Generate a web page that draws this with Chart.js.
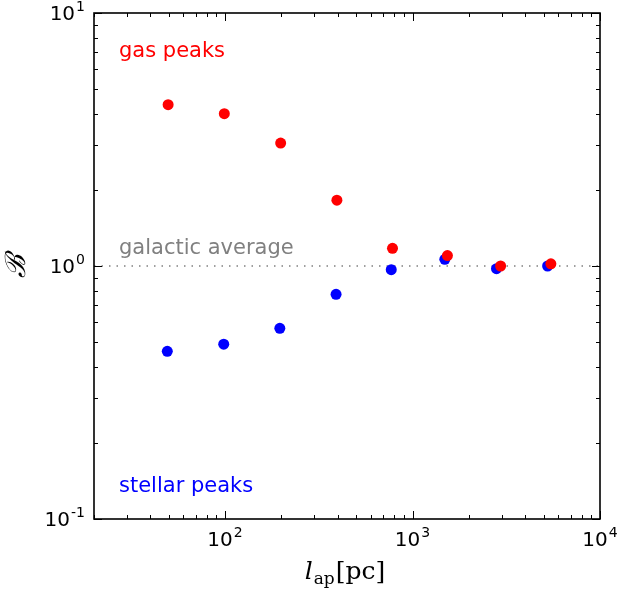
<!DOCTYPE html>
<html>
<head>
<meta charset="utf-8">
<script src="https://cdn.jsdelivr.net/npm/chart.js@4/dist/chart.umd.min.js"></script>
<style>
html,body{margin:0;padding:0;background:#fff;}
canvas{display:block;}
</style>
</head>
<body>
<canvas id="c" width="619" height="592"></canvas>
<script>
// ---- data ----
const gasScale = [49.7, 99.1, 198, 395, 782, 1535, 2950, 5470];
const gasB     = [4.34, 4.00, 3.06, 1.82, 1.175, 1.10, 1.00, 1.02];
const starScale = [49.2, 98.4, 196, 391, 770, 1487, 2805, 5255];
const starB     = [0.460, 0.491, 0.567, 0.773, 0.967, 1.063, 0.976, 1.00];
const averageLine = [[20, 1], [10000, 1]];
const xRange = [20, 10000];
const yRange = [0.1, 10];
const xTickValues = [100, 1000, 10000];
const xTickExponents = ['2', '3', '4'];
const yTickValues = [0.1, 1, 10];
const yTickExponents = ['-1', '0', '1'];
const annotations = [
  {text: 'gas peaks', color: '#ff0000', dy: 41},
  {text: 'galactic average', color: '#808080', dy: 238},
  {text: 'stellar peaks', color: '#0000ff', dy: 476}
];

const toPts = (xs, ys) => xs.map((x, i) => ({x: x, y: ys[i]}));

function minorValues(min, max) {
  const out = [];
  for (let e = Math.floor(Math.log10(min)); e <= Math.ceil(Math.log10(max)); e++) {
    for (let k = 1; k <= 9; k++) {
      const v = k * Math.pow(10, e);
      if (v >= min * 0.9999 && v <= max * 1.0001) out.push({v: v, major: k === 1});
    }
  }
  return out;
}

const BASE_FONT = '20px "DejaVu Sans"';
const SUP_FONT = '14px "DejaVu Sans"';
function powWidth(ctx, exp) {
  ctx.font = BASE_FONT; const a = ctx.measureText('10').width;
  ctx.font = SUP_FONT; const b = ctx.measureText(exp).width;
  return {a: a, b: b, w: a + 1 + b};
}
function drawPow(ctx, exp, x, baseline) {
  const m = powWidth(ctx, exp);
  ctx.font = BASE_FONT; ctx.fillText('10', x, baseline);
  ctx.font = SUP_FONT; ctx.fillText(exp, x + m.a + 1, baseline - 9);
}

const decor = {
  id: 'decor',
  afterDraw(chart) {
    const ctx = chart.ctx, a = chart.chartArea;
    const xs = chart.scales.x, ys = chart.scales.y;
    ctx.save();
    ctx.strokeStyle = '#000';
    ctx.lineWidth = 1;
    // inward ticks on all four sides
    minorValues(xRange[0], xRange[1]).forEach(t => {
      const px = Math.round(xs.getPixelForValue(t.v)) + 0.5;
      const L = t.major ? 8 : 4;
      ctx.beginPath();
      ctx.moveTo(px, a.bottom); ctx.lineTo(px, a.bottom - L);
      ctx.moveTo(px, a.top); ctx.lineTo(px, a.top + L);
      ctx.stroke();
    });
    minorValues(yRange[0], yRange[1]).forEach(t => {
      const py = Math.round(ys.getPixelForValue(t.v)) + 0.5;
      const L = t.major ? 8 : 4;
      ctx.beginPath();
      ctx.moveTo(a.left, py); ctx.lineTo(a.left + L, py);
      ctx.moveTo(a.right, py); ctx.lineTo(a.right - L, py);
      ctx.stroke();
    });
    // frame
    ctx.lineWidth = 1.6;
    ctx.strokeRect(a.left, a.top, a.right - a.left, a.bottom - a.top);

    // tick labels
    ctx.fillStyle = '#000';
    ctx.textAlign = 'left';
    ctx.textBaseline = 'alphabetic';
    xTickValues.forEach((v, i) => {
      const px = xs.getPixelForValue(v);
      const m = powWidth(ctx, xTickExponents[i]);
      drawPow(ctx, xTickExponents[i], px - m.w / 2, a.bottom + 27);
    });
    yTickValues.forEach((v, i) => {
      const py = ys.getPixelForValue(v);
      const m = powWidth(ctx, yTickExponents[i]);
      drawPow(ctx, yTickExponents[i], a.left - 9 - m.w, py + 7);
    });

    // annotations
    ctx.font = '21px "DejaVu Sans"';
    ctx.textBaseline = 'top';
    ctx.textAlign = 'left';
    annotations.forEach(n => {
      ctx.fillStyle = n.color;
      ctx.fillText(n.text, a.left + 25, n.dy);
    });

    // x title: l_ap [pc]
    ctx.fillStyle = '#000';
    ctx.textBaseline = 'alphabetic';
    const f1 = 'italic 25px "DejaVu Serif"';
    const f2 = '17px "DejaVu Serif"';
    const f3 = '25px "DejaVu Serif"';
    ctx.font = f1; const w1 = ctx.measureText('l').width;
    ctx.font = f2; const w2 = ctx.measureText('ap').width;
    ctx.font = f3; const w3 = ctx.measureText('[pc]').width;
    let x0 = 345 - (w1 + w2 + w3 + 2) / 2;
    const base = 579;
    ctx.font = f1; ctx.fillText('l', x0, base); x0 += w1 + 1;
    ctx.font = f2; ctx.fillText('ap', x0, base + 5); x0 += w2 + 1;
    ctx.font = f3; ctx.fillText('[pc]', x0, base);

    // y title
    ctx.save();
    ctx.translate(18, (a.top + a.bottom) / 2);
    ctx.rotate(-Math.PI / 2);
    ctx.textAlign = 'center';
    ctx.textBaseline = 'middle';
    ctx.font = 'italic 28px "DejaVu Serif"';
    ctx.fillText('ℬ', 0, 0);
    ctx.restore();
    ctx.restore();
  }
};

new Chart(document.getElementById('c'), {
  type: 'scatter',
  data: {
    datasets: [
      {
        label: 'gas peaks',
        data: toPts(gasScale, gasB),
        backgroundColor: '#ff0000',
        borderWidth: 0,
        pointRadius: 5.5,
        order: 0
      },
      {
        label: 'stellar peaks',
        data: toPts(starScale, starB),
        backgroundColor: '#0000ff',
        borderWidth: 0,
        pointRadius: 5.5,
        order: 1
      },
      {
        label: 'galactic average',
        type: 'line',
        data: averageLine.map(p => ({x: p[0], y: p[1]})),
        borderColor: '#808080',
        borderWidth: 1.3,
        borderDash: [1.5, 6],
        pointRadius: 0,
        fill: false,
        order: 2
      }
    ]
  },
  options: {
    responsive: false,
    animation: false,
    devicePixelRatio: 1,
    layout: {padding: {left: 0, top: 13, right: 19, bottom: 0}},
    plugins: {legend: {display: false}, tooltip: {enabled: false}},
    scales: {
      x: {
        type: 'logarithmic',
        min: xRange[0], max: xRange[1],
        grid: {display: false, drawTicks: false},
        border: {display: false},
        afterBuildTicks(s) { s.ticks = xTickValues.map(v => ({value: v})); },
        ticks: {display: false},
        afterFit(s) { s.height = 73; s.paddingLeft = 0; s.paddingRight = 0; }
      },
      y: {
        type: 'logarithmic',
        min: yRange[0], max: yRange[1],
        grid: {display: false, drawTicks: false},
        border: {display: false},
        afterBuildTicks(s) { s.ticks = yTickValues.map(v => ({value: v})); },
        ticks: {display: false},
        afterFit(s) { s.width = 94; s.paddingTop = 0; s.paddingBottom = 0; }
      }
    }
  },
  plugins: [decor]
});
</script>
</body>
</html>
